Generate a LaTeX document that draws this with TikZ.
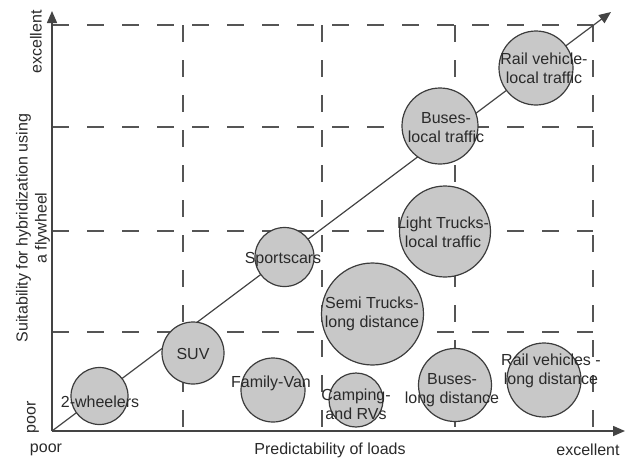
\documentclass[tikz,border=0pt]{standalone}
\usepackage{fontspec}
\setmainfont{Liberation Sans}
\usetikzlibrary{arrows.meta}
\definecolor{bubblefill}{HTML}{C8C8C8}
\definecolor{bubbleline}{HTML}{3C3C3C}
\definecolor{txtcol}{HTML}{2A2A2A}
\definecolor{gridcol}{HTML}{555555}
\definecolor{axiscol}{HTML}{444444}
\begin{document}
\begin{tikzpicture}[x=1pt,y=-1pt,
  bubble/.style={circle,draw=bubbleline,fill=bubblefill,line width=1.2pt,inner sep=0pt},
  bubbletext/.style={text=txtcol,align=center,inner sep=0pt,font=\fontsize{16}{19}\selectfont},
  axislabel/.style={text=txtcol,align=center,inner sep=0pt,font=\fontsize{16}{19}\selectfont},
  gridline/.style={draw=gridcol,line width=1.6pt,dash pattern=on 17pt off 18pt},
  axisline/.style={draw=axiscol,line width=1.5pt,-{Triangle[length=12pt,width=10pt]}},
  diagline/.style={draw=axiscol,line width=1.2pt,-{Triangle[length=12pt,width=10pt]}}]
\useasboundingbox (0,0) rectangle (629,459);
% named coordinates
\coordinate (O) at (52,431);
\coordinate (YT) at (52,11);
\coordinate (XT) at (625,431);
\coordinate (DT) at (611,12);
% grid
\foreach \yy in {25,127,231,332} {
  \draw[gridline] (52,\yy) -- (593,\yy);
}
\foreach \xx in {183,322,455,593} {
  \draw[gridline] (\xx,25) -- (\xx,431);
}
% axes
\draw[axisline] (O) -- (YT);
\draw[axisline] (O) -- (XT);
\draw[diagline] (O) -- (DT);
% bubbles
\node[bubble,minimum size=57pt] (c1) at (99.5,396) {};
\node[bubble,minimum size=62pt] (c2) at (193,353) {};
\node[bubble,minimum size=64pt] (c3) at (273,390) {};
\node[bubble,minimum size=59pt] (c4) at (284.5,257) {};
\node[bubble,minimum size=102pt] (c5) at (372.5,314) {};
\node[bubble,minimum size=54pt] (c6) at (356,400) {};
\node[bubble,minimum size=73pt] (c7) at (455,385) {};
\node[bubble,minimum size=74pt] (c8) at (544,380) {};
\node[bubble,minimum size=91pt] (c9) at (445,231.5) {};
\node[bubble,minimum size=76pt] (c10) at (440,126) {};
\node[bubble,minimum size=74pt] (c11) at (536,68) {};
% bubble texts
\node[bubbletext] (t1) at (100,402) {2-wheelers};
\node[bubbletext] (t2) at (193,354) {SUV};
\node[bubbletext] (t3) at (271,383) {Family-Van};
\node[bubbletext] (t4) at (283,260) {Sportscars};
\node[bubbletext] (t5) at (372,314) {Semi Trucks-\\long distance};
\node[bubbletext] (t6) at (356,404.5) {Camping-\\and RVs};
\node[bubbletext] (t7) at (452,390) {Buses-\\long distance};
\node[bubbletext] (t8) at (551,370.5) {Rail vehicles -\\long distance};
\node[bubbletext] (t9) at (443,232) {Light Trucks-\\local traffic};
\node[bubbletext] (t10) at (446,128) {Buses-\\local traffic};
\node[bubbletext] (t11) at (544,68.5) {Rail vehicle-\\local traffic};
% axis labels
\node[axislabel,rotate=90] (ylab) at (33,228) {Suitability for hybridization using\\a flywheel};
\node[axislabel,rotate=90] (yex) at (36,42) {excellent};
\node[axislabel,rotate=90] (ypo) at (33,417) {poor};
\node[axislabel] (xpo) at (46,450) {poor};
\node[axislabel] (xlab) at (330,450) {Predictability of loads};
\node[axislabel] (xex) at (588,450) {excellent};
\end{tikzpicture}
\end{document}
